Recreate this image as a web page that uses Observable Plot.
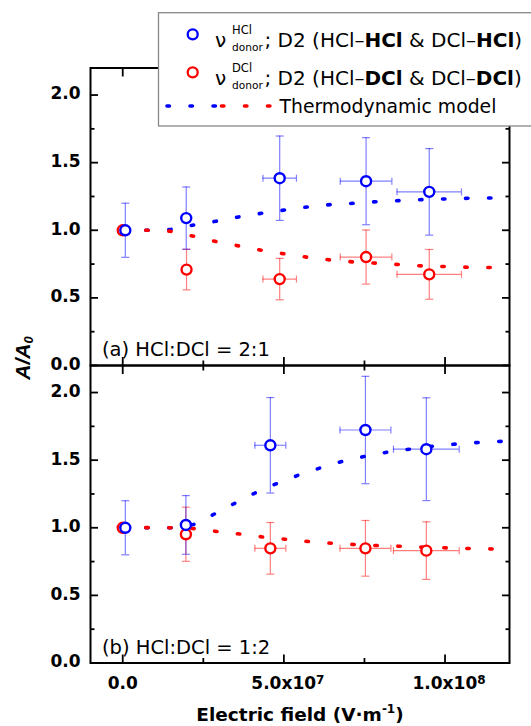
<!DOCTYPE html>
<html><head><meta charset="utf-8">
<script src="https://cdn.jsdelivr.net/npm/d3@7"></script>
<script src="https://cdn.jsdelivr.net/npm/@observablehq/plot@0.6"></script>
<style>
 html,body{margin:0;padding:0;background:#fff;}
 #chart{position:relative;width:531px;height:726px;overflow:hidden;}
</style></head><body><div id="chart"></div>
<script>
// ---------- data ----------
const panels = ["a", "b"];
const panelLabels = ["(a) HCl:DCl = 2:1", "(b) HCl:DCl = 1:2"];

// panel (a) HCl:DCl = 2:1
const fieldA_HCl = [0.08e7, 1.97e7, 4.87e7, 7.55e7, 9.51e7];
const fieldA_DCl = [0, 1.98e7, 4.87e7, 7.55e7, 9.51e7];
const fieldErrA = [0, 0, 0.52e7, 0.8e7, 1.0e7];
const ratioA_HCl = [1.0, 1.09, 1.385, 1.363, 1.284];
const errA_HCl = [0.2, 0.23, 0.312, 0.322, 0.32];
const ratioA_DCl = [1.0, 0.709, 0.639, 0.802, 0.674];
const errA_DCl = [0, 0.15, 0.153, 0.2, 0.184];

// panel (b) HCl:DCl = 1:2
const fieldB_HCl = [0.08e7, 1.96e7, 4.58e7, 7.53e7, 9.42e7];
const fieldB_DCl = [0, 1.96e7, 4.58e7, 7.53e7, 9.42e7];
const fieldErrB = [0, 0, 0.48e7, 0.79e7, 1.02e7];
const ratioB_HCl = [1.0, 1.021, 1.61, 1.723, 1.581];
const errB_HCl = [0.2, 0.217, 0.353, 0.397, 0.38];
const ratioB_DCl = [1.0, 0.952, 0.848, 0.848, 0.831];
const errB_DCl = [0, 0.2, 0.191, 0.206, 0.213];

// thermodynamic model curves
const modelFieldA = [0, 0.78e7, 1.47e7, 2.2e7, 2.9e7, 3.61e7, 4.31e7, 5.03e7, 5.75e7, 6.46e7, 7.19e7, 7.9e7, 8.62e7, 9.33e7, 1.007e8, 1.078e8, 1.151e8];
const modelA_HCl = [1.0, 1.0, 1.005, 1.039, 1.067, 1.099, 1.126, 1.150, 1.173, 1.190, 1.200, 1.212, 1.220, 1.227, 1.232, 1.237, 1.239];
const modelA_DCl = [1.0, 1.0, 0.993, 0.956, 0.916, 0.884, 0.852, 0.825, 0.800, 0.780, 0.765, 0.756, 0.746, 0.736, 0.731, 0.726, 0.724];
const modelFieldB_HCl = [0, 0.78e7, 1.49e7, 2.2e7, 2.79e7, 3.42e7, 4.07e7, 4.75e7, 5.44e7, 6.12e7, 6.83e7, 7.53e7, 8.26e7, 8.96e7, 9.67e7, 1.038e8, 1.11e8, 1.183e8];
const modelB_HCl = [1.0, 1.0, 1.0, 1.024, 1.095, 1.174, 1.253, 1.324, 1.388, 1.442, 1.492, 1.529, 1.561, 1.583, 1.605, 1.620, 1.632, 1.640];
const modelFieldB_DCl = [0, 0.78e7, 1.49e7, 2.22e7, 2.94e7, 3.63e7, 4.34e7, 5.07e7, 5.78e7, 6.51e7, 7.21e7, 7.94e7, 8.67e7, 9.37e7, 1.01e8, 1.082e8, 1.154e8];
const modelB_DCl = [1.0, 1.001, 1.0, 0.994, 0.972, 0.954, 0.932, 0.915, 0.898, 0.885, 0.876, 0.868, 0.863, 0.856, 0.851, 0.846, 0.843];

// axes
const yMajor = [0, 0.5, 1.0, 1.5, 2.0];
const yMinor = [0.25, 0.75, 1.25, 1.75];
const xMajor = [0, 5e7, 1e8];
const xMinor = [2.5e7, 7.5e7];
const xTickBase = ["0.0", "5.0x10", "1.0x10"];
const xTickExp = ["", "7", "8"];

// ---------- build tables ----------
function series(panel, kind, xs, ys, es, xes) {
  return xs.map((x, i) => ({panel, kind, x, y: ys[i], err: es[i], xerr: xes[i]}));
}
function curve(panel, kind, xs, ys) {
  return xs.map((x, i) => ({panel, kind, x, y: ys[i]}));
}
const points = [
  ...series("a", "HCl", fieldA_HCl, ratioA_HCl, errA_HCl, fieldErrA),
  ...series("a", "DCl", fieldA_DCl, ratioA_DCl, errA_DCl, fieldErrA),
  ...series("b", "HCl", fieldB_HCl, ratioB_HCl, errB_HCl, fieldErrB),
  ...series("b", "DCl", fieldB_DCl, ratioB_DCl, errB_DCl, fieldErrB)
];
const models = [
  ...curve("a", "HCl", modelFieldA, modelA_HCl),
  ...curve("a", "DCl", modelFieldA, modelA_DCl),
  ...curve("b", "HCl", modelFieldB_HCl, modelB_HCl),
  ...curve("b", "DCl", modelFieldB_DCl, modelB_DCl)
];

const COLORS = {HCl: "#0000ff", DCl: "#ff0000"};
const capH = {draw(ctx, size) { const w = Math.sqrt(size / Math.PI); ctx.moveTo(-w, 0); ctx.lineTo(w, 0); }};
const capV = {draw(ctx, size) { const w = Math.sqrt(size / Math.PI); ctx.moveTo(0, -w); ctx.lineTo(0, w); }};

const errMarks = [];
for (const kind of ["DCl", "HCl"]) {
  const c = COLORS[kind];
  const ye = points.filter(d => d.kind === kind && d.err > 0);
  const xe = points.filter(d => d.kind === kind && d.xerr > 0);
  const eo = {stroke: c, strokeOpacity: 0.5, strokeWidth: 1.2};
  errMarks.push(
    Plot.ruleX(ye, {fy: "panel", x: "x", y1: d => d.y - d.err, y2: d => d.y + d.err, ...eo}),
    Plot.dot(ye, {fy: "panel", x: "x", y: d => d.y + d.err, symbol: capH, r: 4, fill: "none", ...eo}),
    Plot.dot(ye, {fy: "panel", x: "x", y: d => d.y - d.err, symbol: capH, r: 4, fill: "none", ...eo}),
    Plot.ruleY(xe, {fy: "panel", y: "y", x1: d => d.x - d.xerr, x2: d => d.x + d.xerr, ...eo}),
    Plot.dot(xe, {fy: "panel", y: "y", x: d => d.x - d.xerr, symbol: capV, r: 3.5, fill: "none", ...eo}),
    Plot.dot(xe, {fy: "panel", y: "y", x: d => d.x + d.xerr, symbol: capV, r: 3.5, fill: "none", ...eo})
  );
}

const modelMarks = ["HCl", "DCl"].map(kind =>
  Plot.line(models.filter(d => d.kind === kind), {
    fy: "panel", x: "x", y: "y", z: "panel",
    stroke: COLORS[kind], strokeWidth: 3.6, strokeDasharray: "2.4,20.6", strokeLinecap: "round"
  })
);

const pointMarks = ["DCl", "HCl"].map(kind =>
  Plot.dot(points.filter(d => d.kind === kind), {
    fy: "panel", x: "x", y: "y", r: 5, stroke: COLORS[kind], strokeWidth: 2.4, fill: "white"
  })
);

const tk = {tickFormat: () => "", label: null, facetAnchor: null, stroke: "black", strokeWidth: 1.8};

const chart = Plot.plot({
  width: 531,
  height: 726,
  marginTop: 67.5,
  marginBottom: 63.5,
  marginLeft: 90,
  marginRight: 22,
  style: {fontFamily: "DejaVu Sans", background: "white", color: "black"},
  x: {domain: [-1e7, 1.2e8]},
  y: {domain: [0, 2.2]},
  fy: {domain: panels, paddingInner: 0, paddingOuter: 0, axis: null, label: null, round: false},
  marks: [
    ...errMarks,
    ...modelMarks,
    ...pointMarks,
    Plot.axisY({anchor: "left", ticks: yMajor, tickSize: -8, ...tk}),
    Plot.axisY({anchor: "right", ticks: yMajor, tickSize: -8, ...tk}),
    Plot.axisY({anchor: "left", ticks: yMinor, tickSize: -4.5, ...tk}),
    Plot.axisY({anchor: "right", ticks: yMinor, tickSize: -4.5, ...tk}),
    Plot.axisX({anchor: "bottom", ticks: xMajor, tickSize: -8, ...tk}),
    Plot.axisX({anchor: "top", ticks: xMajor, tickSize: -8, ...tk}),
    Plot.axisX({anchor: "bottom", ticks: xMinor, tickSize: -4.5, ...tk}),
    Plot.axisX({anchor: "top", ticks: xMinor, tickSize: -4.5, ...tk}),
    Plot.axisY({anchor: "left", ticks: yMajor, tickSize: 0, tickPadding: 10, dy: -1,
      tickFormat: d => d.toFixed(1), fontSize: 17, fontWeight: "bold", label: null, facetAnchor: null}),
    Plot.axisX({anchor: "bottom", ticks: xMajor, tickSize: 0, tickPadding: 14,
      tickFormat: d => xTickBase[xMajor.indexOf(d)], fontSize: 17, fontWeight: "bold", label: null}),
    Plot.text(panels, {fy: d => d, text: (d, i) => panelLabels[i], frameAnchor: "bottom-left",
      dx: 11.5, dy: -15.5, lineAnchor: "middle", textAnchor: "start", fontSize: 19.5, fill: "black"}),
    Plot.frame({stroke: "black", strokeWidth: 2})
  ]
});

document.getElementById("chart").appendChild(chart);
const svg = d3.select(chart);

// superscript exponents on x tick labels (real tspans)
svg.selectAll("g[aria-label='x-axis tick label'] text").each(function() {
  const t = d3.select(this);
  const i = xTickBase.indexOf(t.text());
  if (i > 0) {
    t.append("tspan").attr("font-size", 12).attr("dy", "-0.45em").text(xTickExp[i]);
    t.attr("dx", (+t.attr("dx") || 0) + 4);
  }
});

// y-axis title
const yt = svg.append("text")
  .attr("transform", "translate(30,358) rotate(-90)")
  .attr("text-anchor", "middle")
  .attr("font-family", "Liberation Sans, Arial, sans-serif")
  .attr("font-weight", "bold").attr("font-style", "italic")
  .attr("font-size", 21).attr("fill", "black");
yt.append("tspan").text("A/A");
yt.append("tspan").attr("font-size", 13).attr("dy", 3).text("0");

// x-axis title
const xt = svg.append("text")
  .attr("x", 300).attr("y", 721)
  .attr("text-anchor", "middle")
  .attr("font-family", "DejaVu Sans")
  .attr("font-weight", "bold").attr("font-size", 18.5).attr("fill", "black");
xt.append("tspan").text("Electric field (V\u00B7m");
xt.append("tspan").attr("font-size", 12).attr("dy", -8).text("-1");
xt.append("tspan").attr("dy", 8).text(")");

// legend
const lg = svg.append("g").attr("font-family", "DejaVu Sans").attr("fill", "black").attr("text-anchor", "start");
lg.append("rect").attr("x", 158.5).attr("y", 12.7).attr("width", 420).attr("height", 113.3)
  .attr("fill", "white").attr("stroke", "#888").attr("stroke-width", 1.3);
const rows = [
  {kind: "HCl", cy: 34.3, base: 47},
  {kind: "DCl", cy: 72.3, base: 85}
];
for (const r of rows) {
  lg.append("circle").attr("cx", 192.7).attr("cy", r.cy).attr("r", 5)
    .attr("fill", "white").attr("stroke", COLORS[r.kind]).attr("stroke-width", 2.3);
  lg.append("text").attr("x", 215).attr("y", r.base).attr("font-size", 20).text("\u03BD");
  lg.append("text").attr("x", 232).attr("y", r.base - 13.5).attr("font-size", 11.5).text(r.kind);
  lg.append("text").attr("x", 232).attr("y", r.base + 3.8).attr("font-size", 10.6).text("donor");
  const t = lg.append("text").attr("x", 264.5).attr("y", r.base).attr("font-size", 20);
  t.append("tspan").text("; D2 (HCl\u2013");
  t.append("tspan").attr("font-weight", "bold").text(r.kind);
  t.append("tspan").text(" & DCl\u2013");
  t.append("tspan").attr("font-weight", "bold").text(r.kind);
  t.append("tspan").text(")");
}
lg.append("line").attr("x1", 167).attr("x2", 218).attr("y1", 106).attr("y2", 106)
  .attr("stroke", COLORS.HCl).attr("stroke-width", 3.6).attr("stroke-dasharray", "2.4,20.6").attr("stroke-linecap", "round");
lg.append("line").attr("x1", 221.5).attr("x2", 274).attr("y1", 106).attr("y2", 106)
  .attr("stroke", COLORS.DCl).attr("stroke-width", 3.6).attr("stroke-dasharray", "2.4,20.6").attr("stroke-linecap", "round");
lg.append("text").attr("x", 279.5).attr("y", 112.7).attr("font-size", 18.8).text("Thermodynamic model");
</script>
</body></html>
